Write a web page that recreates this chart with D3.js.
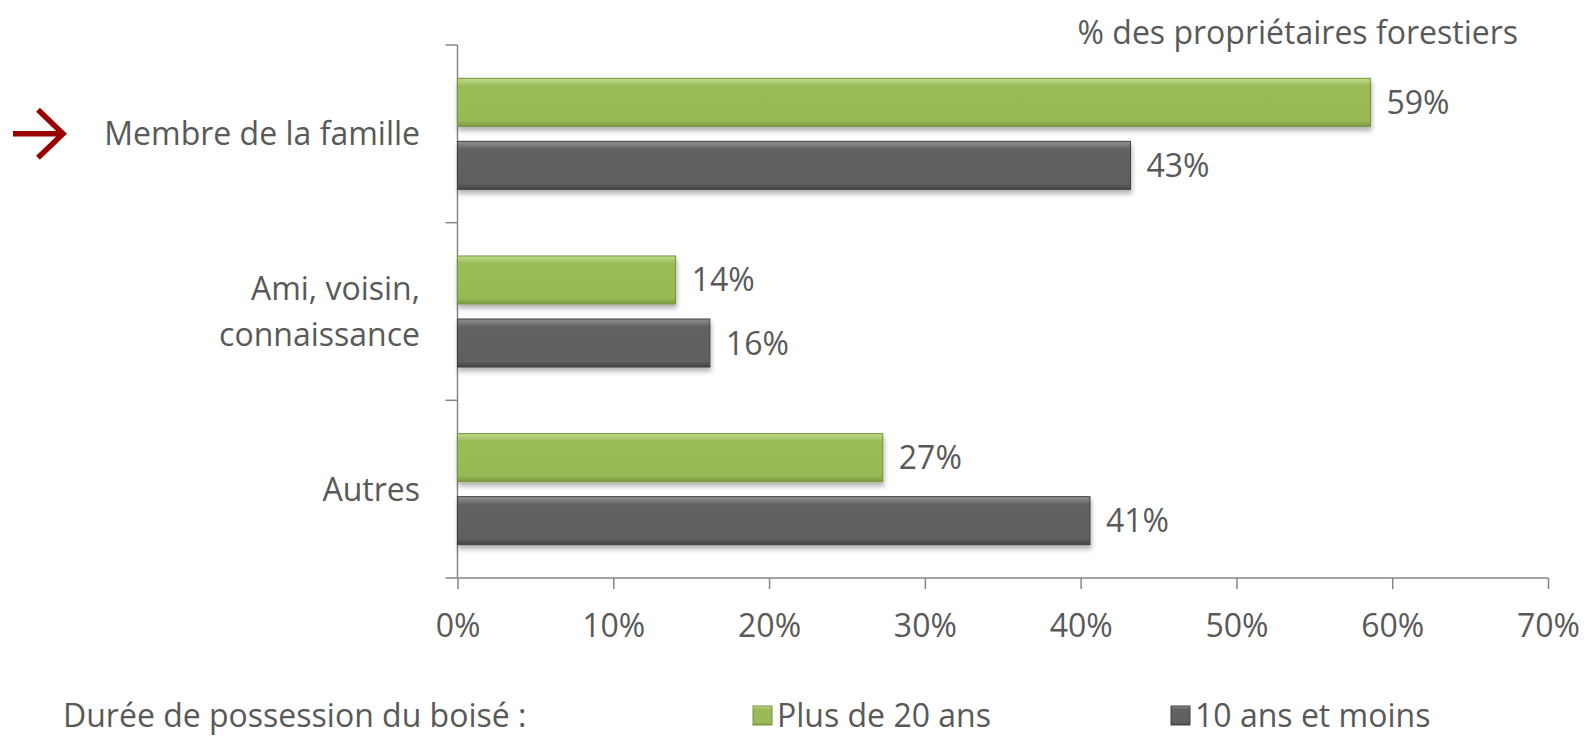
<!DOCTYPE html>
<html>
<head>
<meta charset="utf-8">
<script src="https://cdn.jsdelivr.net/npm/d3@7"></script>
<style>
  body { margin: 0; background: #fff; }
  text { font-family: "Open Sans", sans-serif; fill: #595959; }
</style>
</head>
<body>
<script>
//Width and height
var w = 1585;
var h = 741;

//data
var categories = ["Membre de la famille", "Ami, voisin,\nconnaissance", "Autres"];
var seriesNames = ["Plus de 20 ans", "10 ans et moins"];
var plus20 = [58.6, 14.0, 27.3];
var moins10 = [43.2, 16.2, 40.6];
var xTicks = [0, 10, 20, 30, 40, 50, 60, 70];

var margin = {left: 457.5, right: 37, top: 45, bottom: 163};
var fs = "32px";

var svg = d3.select("body")
			.append("svg")
			.attr("width", w)
			.attr("height", h);

var defs = svg.append("defs");
//gradients to fake the bevel look
var grads = [["#c2dc8e", "#9bbb59", "#99b957", "#7a9840"], ["#939393", "#626262", "#5f5f5f", "#454545"]];
grads.forEach(function(g, i) {
    var lg = defs.append("linearGradient").attr("id", "g" + i)
        .attr("x1", 0).attr("y1", 0).attr("x2", 0).attr("y2", 1);
    lg.append("stop").attr("offset", "0%").attr("stop-color", g[0]);
    lg.append("stop").attr("offset", "16%").attr("stop-color", g[1]);
    lg.append("stop").attr("offset", "88%").attr("stop-color", g[2]);
    lg.append("stop").attr("offset", "100%").attr("stop-color", g[3]);
});
var f = defs.append("filter").attr("id", "shadow").attr("x", "-5%").attr("y", "-20%").attr("width", "110%").attr("height", "160%");
f.append("feDropShadow").attr("dx", 1).attr("dy", 4).attr("stdDeviation", 2.5)
  .attr("flood-color", "#000").attr("flood-opacity", 0.3);

//scales
var x = d3.scaleLinear()
          .domain([0, 70])
          .range([margin.left, w - margin.right]);

var y = d3.scaleBand()
          .domain(categories)
          .range([margin.top, h - margin.bottom])
          .paddingInner(0.375)
          .paddingOuter(0.1875);

var ySub = d3.scaleBand()
          .domain(seriesNames)
          .range([0, y.bandwidth()])
          .paddingInner(0.238);

var table = categories.map(function(c, i) {
    return {cat: c, values: [plus20[i], moins10[i]]};
});

//axes
var xAxis = d3.axisBottom(x)
              .tickValues(xTicks)
              .tickSize(11)
              .tickFormat(function(d) { return d + "%"; });

var gx = svg.append("g")
   .attr("transform", "translate(0," + (h - margin.bottom) + ")")
   .call(xAxis);
gx.select(".domain").remove();
gx.append("line").attr("x1", margin.left - 12).attr("x2", x(70)).attr("stroke", "#868686").attr("stroke-width", 1.5);
gx.selectAll(".tick line").attr("stroke", "#868686").attr("stroke-width", 1.5);
gx.selectAll(".tick text")
  .attr("y", 36)
  .style("font-size", fs)
  .style("fill", "#595959")
  .style("font-family", "Open Sans, sans-serif");

//y axis line with ticks between categories
var yl = svg.append("g");
yl.append("line")
  .attr("x1", x(0)).attr("x2", x(0))
  .attr("y1", margin.top).attr("y2", h - margin.bottom)
  .attr("stroke", "#868686").attr("stroke-width", 1.5);
var step = y.step();
d3.range(categories.length).forEach(function(i) {
    yl.append("line")
      .attr("x1", x(0) - 12).attr("x2", x(0))
      .attr("y1", margin.top + i * step).attr("y2", margin.top + i * step)
      .attr("stroke", "#868686").attr("stroke-width", 1.5);
});

//bars
var groups = svg.selectAll(".cat")
   .data(table)
   .enter()
   .append("g")
   .attr("class", "cat")
   .attr("transform", function(d) { return "translate(0," + y(d.cat) + ")"; });

groups.selectAll("rect")
   .data(function(d) { return d.values; })
   .enter()
   .append("rect")
   .attr("x", x(0))
   .attr("y", function(d, i) { return ySub(seriesNames[i]); })
   .attr("width", function(d) { return x(d) - x(0); })
   .attr("height", ySub.bandwidth())
   .attr("fill", function(d, i) { return "url(#g" + i + ")"; })
   .attr("stroke", function(d, i) { return i == 0 ? "#76923c" : "#404040"; })
   .attr("stroke-width", 1)
   .attr("filter", "url(#shadow)");

groups.selectAll(".val")
   .data(function(d) { return d.values; })
   .enter()
   .append("text")
   .attr("class", "val")
   .attr("x", function(d) { return x(d) + 16; })
   .attr("y", function(d, i) { return ySub(seriesNames[i]) + ySub.bandwidth() / 2; })
   .attr("dy", "0.36em")
   .style("font-size", fs)
   .text(function(d) { return Math.round(d) + "%"; });

//category labels
groups.each(function(d) {
    var lines = d.cat.split("\n");
    var t = d3.select(this).append("text")
        .attr("text-anchor", "end")
        .style("font-size", fs);
    var mid = y.bandwidth() / 2;
    var lh = 46;
    lines.forEach(function(l, k) {
        t.append("tspan")
         .attr("x", 420)
         .attr("y", mid + (k - (lines.length - 1) / 2) * lh)
         .attr("dy", "0.36em")
         .text(l);
    });
});

//arrow pointing to first category
var ay = y(categories[0]) + y.bandwidth() / 2;
svg.append("path")
   .attr("d", "M13," + ay + "H63M38," + (ay - 24) + "L63," + ay + "L38," + (ay + 24))
   .attr("fill", "none")
   .attr("stroke", "#990000")
   .attr("stroke-width", 5.5);

//title
svg.append("text")
   .attr("x", 1518)
   .attr("y", 32)
   .attr("dy", "0.36em")
   .attr("text-anchor", "end")
   .style("font-size", fs)
   .text("% des propriétaires forestiers");

//legend
var ly = 715;
svg.append("text")
   .attr("x", 63).attr("y", ly).attr("dy", "0.36em")
   .style("font-size", fs)
   .text("Durée de possession du boisé :");

var legX = [753, 1171];
seriesNames.forEach(function(s, i) {
    svg.append("rect")
       .attr("x", legX[i]).attr("y", ly - 9)
       .attr("width", 19).attr("height", 19)
       .attr("fill", "url(#g" + i + ")")
       .attr("stroke", i == 0 ? "#76923c" : "#404040");
    svg.append("text")
       .attr("x", legX[i] + 24).attr("y", ly).attr("dy", "0.36em")
       .style("font-size", fs)
       .text(s);
});
</script>
</body>
</html>
